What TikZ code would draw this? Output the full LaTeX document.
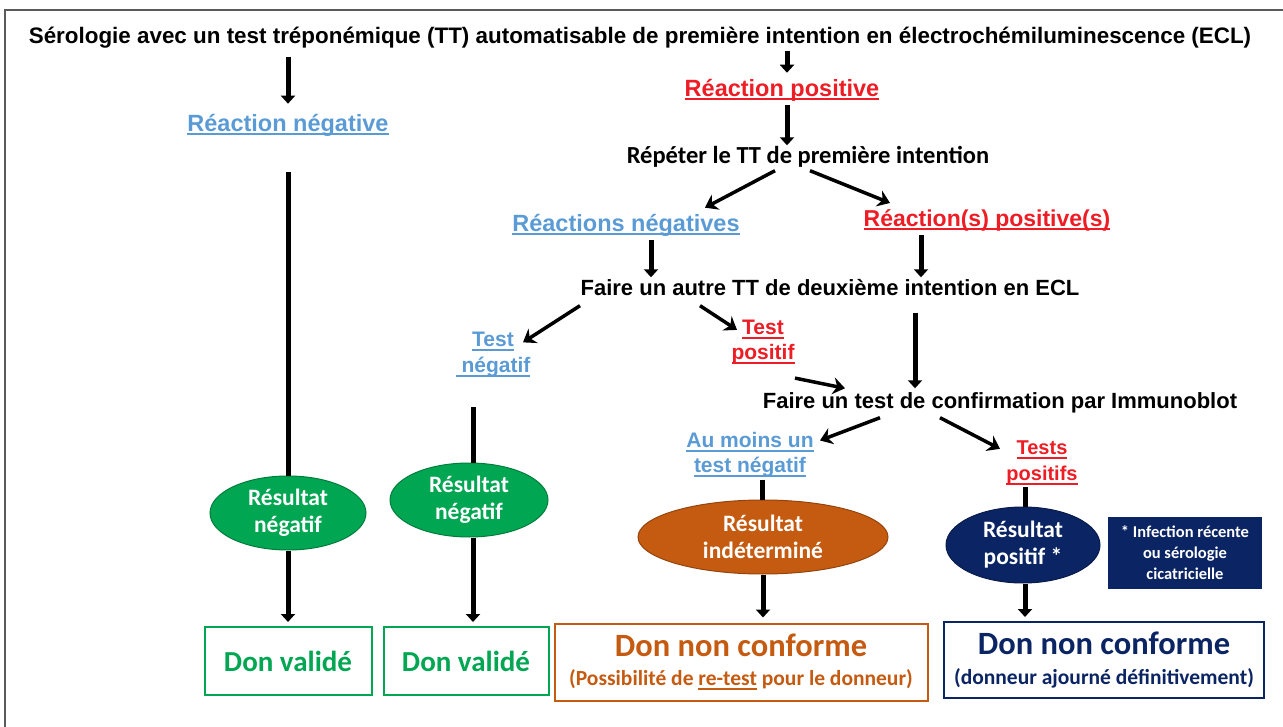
\documentclass[tikz,border=0pt]{standalone}
\usepackage{fontspec}
\setmainfont{Liberation Sans}
\newfontfamily\calib{Carlito}
\usetikzlibrary{arrows.meta,shapes.geometric,positioning}
\newcommand{\souligne}[1]{\setbox0\hbox{#1}\leavevmode\rlap{\rule[-4pt]{\wd0}{1.8pt}}\box0\relax}
\definecolor{bleuneg}{HTML}{5B9BD5}
\definecolor{rougepos}{HTML}{EE1C25}
\definecolor{vertres}{HTML}{00A651}
\definecolor{brique}{HTML}{C55A11}
\definecolor{marine}{HTML}{0B2463}
\definecolor{cadre}{HTML}{5A5A5A}
\begin{document}
\begin{tikzpicture}[x=1pt,y=-1pt,
  titre/.style={font=\bfseries\fontsize{22.4}{26}\selectfont, inner sep=2pt, text height=16pt, text depth=5pt},
  etape/.style={font=\bfseries\fontsize{22}{26}\selectfont, inner sep=2pt, text height=16pt, text depth=5pt},
  etapec/.style={font=\calib\bfseries\fontsize{24.5}{28}\selectfont, inner sep=2pt, text height=16pt, text depth=5pt},
  lab/.style={text=#1, font=\bfseries\fontsize{23.5}{27}\selectfont, align=center, inner sep=2pt},
  res/.style={ellipse, fill=#1, draw=#1!75!black, line width=1pt, text=white, align=center, inner sep=0pt,
    font=\calib\bfseries\fontsize{23.5}{27}\selectfont},
  don/.style={draw=#1, line width=2pt, text=#1, align=center, inner sep=0pt, font=\calib\bfseries},
  fleche/.style={line width=5pt, -{Triangle[width=14pt,length=8pt]}},
  trait/.style={line width=5pt},
  diag/.style={line width=3.5pt, -{Stealth[length=12pt,width=17pt,inset=4pt]}}]
\useasboundingbox (0,0) rectangle (1283,727);
\draw[cadre, line width=2pt] (5,10) rectangle (1300,745);

% texts
\node[titre] (titre) at (640,38) {Sérologie avec un test tréponémique (TT) automatisable de première intention en électrochémiluminescence (ECL)};
\node[lab=bleuneg] (rneg) at (288,125) {\souligne{Réaction négative}};
\node[lab=rougepos] (rpos) at (782,90) {\souligne{Réaction positive}};
\node[etapec] (repeter) at (808,158) {Répéter le TT de première intention};
\node[lab=bleuneg] (rnegs) at (626,225) {\souligne{Réactions négatives}};
\node[lab=rougepos, font=\bfseries\fontsize{23}{27}\selectfont] (rposs) at (987,220) {\souligne{Réaction(s) positive(s)}};
\node[etape] (faire2) at (830,290) {Faire un autre TT de deuxième intention en ECL};
\node[lab=bleuneg, font=\bfseries\fontsize{21}{26}\selectfont] (tneg) at (493,355) {\souligne{Test}\\\souligne{ négatif}};
\node[lab=rougepos, font=\bfseries\fontsize{21}{25}\selectfont] (tpos) at (763,342) {\souligne{Test}\\\souligne{positif}};
\node[etape] (faire3) at (1000,403) {Faire un test de confirmation par Immunoblot};
\node[lab=bleuneg, font=\bfseries\fontsize{21}{25}\selectfont] (aumoins) at (750,455) {\souligne{Au moins un}\\\souligne{test négatif}};
\node[lab=rougepos, font=\bfseries\fontsize{20}{26}\selectfont] (tposs) at (1042,463) {\souligne{Tests}\\\souligne{positifs}};

% resultats
\node[res=vertres, minimum width=156pt, minimum height=74pt] (res1) at (288,513) {Résultat\\négatif};
\node[res=vertres, minimum width=158pt, minimum height=74pt] (res2) at (469,500) {Résultat\\négatif};
\node[res=brique, minimum width=250pt, minimum height=74pt] (res3) at (763,537) {Résultat\\indéterminé};
\node[res=marine, minimum width=154pt, minimum height=76pt] (res4) at (1023,545) {Résultat\\positif *};
\node[fill=marine, text=white, align=center, minimum width=154pt, minimum height=72pt, inner sep=0pt,
  font=\calib\bfseries\fontsize{16.5}{21}\selectfont] (note) at (1185,553) {* Infection récente\\ou sérologie\\cicatricielle};

% dons
\node[don=vertres, minimum width=167pt, minimum height=68pt, font=\calib\bfseries\fontsize{29}{34}\selectfont] (don1) at (288,661) {Don validé};
\node[don=vertres, minimum width=165pt, minimum height=68pt, font=\calib\bfseries\fontsize{29}{34}\selectfont] (don2) at (466,661) {Don validé};
\node[don=brique, minimum width=373pt, minimum height=77pt] (don3) at (741,662)
  {{\fontsize{32.5}{36}\selectfont Don non conforme}\\[12pt]{\fontsize{21.5}{24}\selectfont (Possibilité de \souligne{re-test} pour le donneur)}};
\node[don=marine, minimum width=320pt, minimum height=76pt] (don4) at (1104,660)
  {{\fontsize{32.5}{36}\selectfont Don non conforme}\\[12pt]{\fontsize{21.5}{24}\selectfont (donneur ajourné définitivement)}};

% fleches
\draw[fleche] (titre.south -| rneg.north) ++(0,6) -- ([yshift=8pt]rneg.north);
\draw[fleche] (titre.south -| 787,0) -- ([xshift=5pt,yshift=4pt]rpos.north);
\draw[fleche] ([xshift=5pt,yshift=-2pt]rpos.south) -- ([xshift=-21pt]repeter.north);
\draw[diag] ([xshift=-33pt]repeter.south) -- ([xshift=79pt,yshift=4pt]rnegs.north);
\draw[diag] ([xshift=2pt]repeter.south) -- ([xshift=-97pt,yshift=4pt]rposs.north);
\draw[fleche] ([xshift=25pt,yshift=-2pt]rnegs.south) -- ([xshift=-179pt]faire2.north);
\draw[fleche] ([xshift=-66pt,yshift=-2pt]rposs.south) -- ([xshift=91pt]faire2.north);
\draw[diag] ([xshift=-250pt,yshift=-3pt]faire2.south) -- ([xshift=30pt,yshift=-12pt]tneg.north);
\draw[diag] ([xshift=-130pt,yshift=-3pt]faire2.south) -- ([xshift=-26pt,yshift=-12pt]tpos.north);
\draw[fleche] ([xshift=85pt,yshift=-10pt]faire2.south) -- ([xshift=-85pt,yshift=2pt]faire3.north);
\draw[diag] ([xshift=32pt,yshift=-12pt]tpos.south) -- ([xshift=-155pt,yshift=2pt]faire3.north);
\draw[diag] ([xshift=-120pt,yshift=-2pt]faire3.south) -- ([xshift=70pt,yshift=-10pt]aumoins.north);
\draw[diag] ([xshift=-60pt,yshift=-2pt]faire3.south) -- ([xshift=-42pt,yshift=-10pt]tposs.north);
\draw[trait] (rneg.south |- 0,172) -- (res1.north);
\draw[trait] ([xshift=-20pt]tneg.south |- 0,407) -- ([xshift=4pt]res2.north);
\draw[trait] ([xshift=12pt]aumoins.south) -- ([xshift=-1pt]res3.north);
\draw[trait] ([xshift=-17pt]tposs.south) -- ([xshift=2pt]res4.north);
\draw[fleche] (res1.south) -- ([yshift=4pt]don1.north);
\draw[fleche] ([xshift=4pt]res2.south) -- ([xshift=7pt,yshift=4pt]don2.north);
\draw[fleche] (res3.south) -- ([xshift=22pt,yshift=5pt]don3.north);
\draw[fleche] ([xshift=2pt]res4.south) -- ([xshift=-79pt,yshift=4pt]don4.north);
\end{tikzpicture}
\end{document}
